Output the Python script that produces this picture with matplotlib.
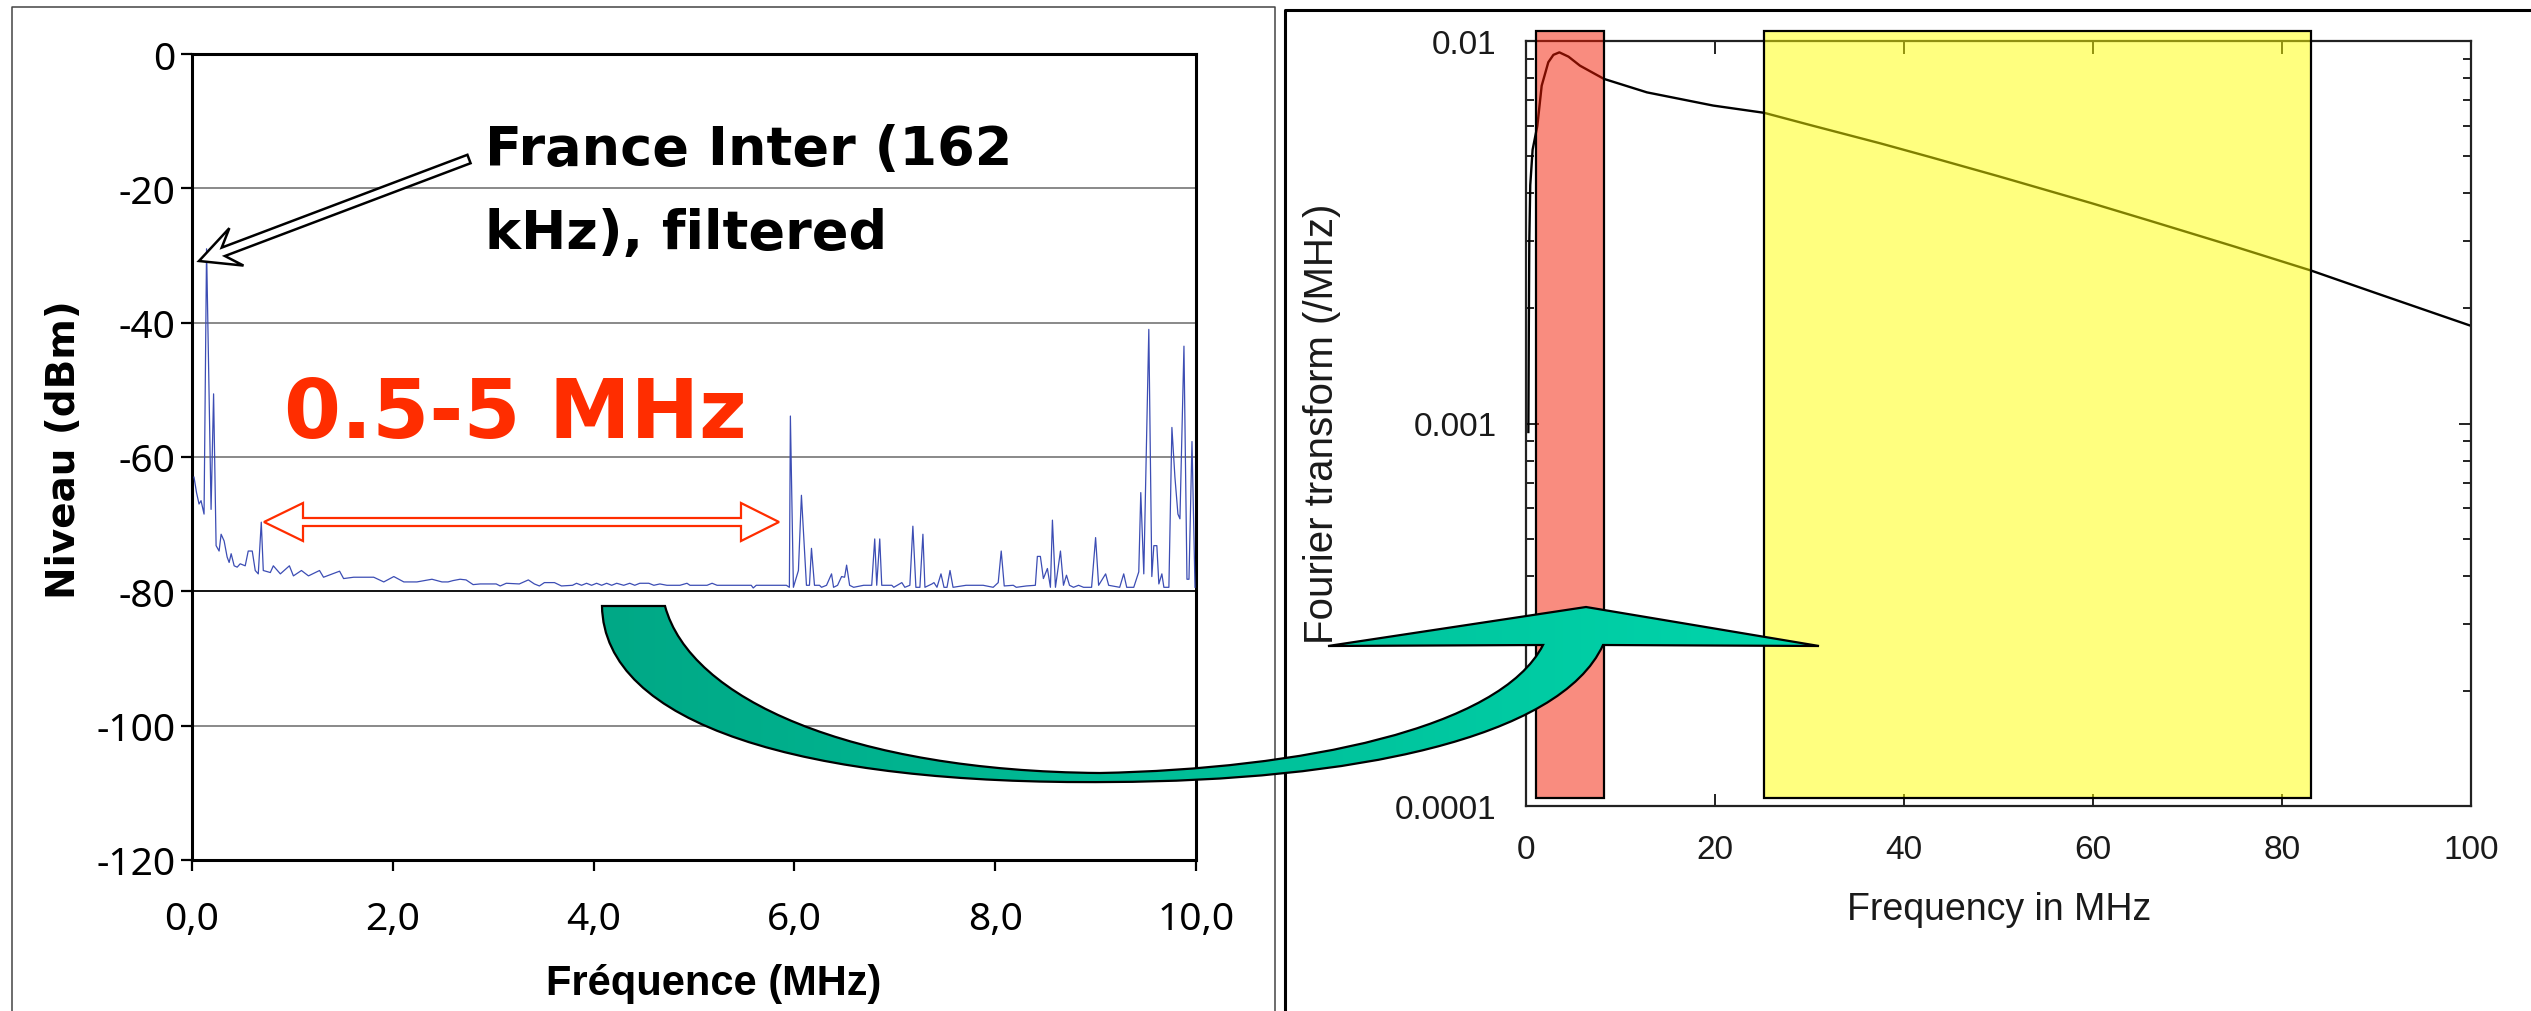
import numpy as np
import matplotlib
matplotlib.use("Agg")
import matplotlib.pyplot as plt
from matplotlib.path import Path
from matplotlib.patches import PathPatch, Polygon, FancyArrow, Rectangle
from matplotlib.ticker import FixedLocator, FixedFormatter, LogLocator, NullFormatter, NullLocator

# ---------------- data : left spectrum ----------------
freq_mhz = [
    0.02, 0.045, 0.07, 0.09, 0.12, 0.145, 0.19, 0.215, 0.24, 0.27, 0.29, 0.32, 0.35, 0.37, 0.39,
    0.42, 0.45, 0.48, 0.53, 0.56, 0.60, 0.63, 0.66, 0.69, 0.71, 0.78, 0.81, 0.88, 0.97, 1.01,
    1.09, 1.16, 1.27, 1.31, 1.47, 1.51, 1.61, 1.81, 1.91, 2.01, 2.11, 2.24, 2.39, 2.49,
    2.55, 2.60, 2.67, 2.73, 2.80, 2.87, 3.03, 3.07, 3.13, 3.26, 3.35, 3.41, 3.46, 3.51, 3.56,
    3.61, 3.68, 3.79, 3.83, 3.88, 3.93, 3.98, 4.03, 4.08, 4.13, 4.18, 4.23, 4.30, 4.36, 4.41,
    4.46, 4.55, 4.60, 4.66, 4.73, 4.79, 4.86, 4.93, 4.96, 5.13, 5.18, 5.23, 5.46, 5.57, 5.59,
    5.62, 5.92, 5.95, 5.96, 5.99, 6.04, 6.07, 6.12, 6.15, 6.17, 6.20, 6.25, 6.27, 6.32, 6.37,
    6.39, 6.43, 6.47, 6.50, 6.52, 6.55, 6.59, 6.69, 6.77, 6.80, 6.82, 6.85, 6.87, 6.97, 6.99,
    7.07, 7.10, 7.15, 7.18, 7.21, 7.25, 7.28, 7.30, 7.37, 7.39, 7.42, 7.46, 7.49, 7.52, 7.55,
    7.58, 7.71, 7.88, 7.98, 8.03, 8.06, 8.09, 8.18, 8.21, 8.31, 8.40, 8.42, 8.45, 8.48, 8.52,
    8.55, 8.57, 8.60, 8.65, 8.68, 8.71, 8.74, 8.78, 8.83, 8.88, 8.96, 9.00, 9.03, 9.10, 9.13,
    9.24, 9.28, 9.31, 9.38, 9.43, 9.45, 9.48, 9.53, 9.56, 9.58, 9.61, 9.63, 9.66, 9.68, 9.73,
    9.76, 9.79, 9.82, 9.84, 9.88, 9.91, 9.93, 9.96, 9.99]
level_dbm = [
    -63.0, -65.3, -67.0, -66.5, -68.5, -29.0, -67.8, -50.6, -73.2, -74.0, -71.5, -72.5, -74.9, -75.7, -74.4,
    -76.2, -76.4, -75.9, -76.2, -74.0, -74.0, -76.9, -77.4, -69.7, -76.9, -77.2, -76.2, -77.4, -76.2, -77.7,
    -76.9, -77.7, -76.9, -77.9, -77.0, -78.1, -77.9, -77.9, -78.6, -77.8, -78.6, -78.6, -78.2, -78.6,
    -78.6, -78.4, -78.2, -78.3, -79.0, -78.9, -78.9, -79.2, -78.8, -78.9, -78.3, -78.9, -79.2, -78.7, -78.7,
    -78.7, -79.2, -79.1, -78.8, -79.1, -78.8, -79.1, -78.8, -79.1, -78.8, -79.1, -78.8, -79.1, -78.8, -79.1,
    -78.8, -78.8, -79.1, -78.9, -79.1, -79.1, -79.1, -78.8, -79.1, -79.1, -78.8, -79.1, -79.1, -79.1, -79.5,
    -79.1, -79.1, -79.4, -53.9, -79.4, -76.9, -65.7, -79.1, -79.1, -73.6, -79.1, -79.1, -79.4, -79.1, -77.4,
    -79.4, -79.1, -77.8, -77.9, -76.1, -79.1, -79.4, -79.1, -79.1, -72.2, -79.1, -72.2, -79.1, -79.1, -79.4,
    -78.7, -79.4, -79.1, -70.3, -79.4, -79.4, -71.5, -79.4, -78.9, -78.7, -79.4, -77.4, -79.4, -79.4, -76.9,
    -79.4, -79.1, -79.1, -79.4, -78.7, -74.0, -79.2, -79.1, -79.4, -79.2, -79.1, -74.8, -74.8, -78.1, -76.6,
    -79.4, -69.4, -79.4, -74.0, -79.1, -77.6, -79.1, -79.4, -79.1, -79.4, -79.4, -72.0, -79.1, -77.4, -79.1,
    -79.4, -77.4, -79.4, -79.4, -77.1, -65.3, -77.4, -41.0, -77.8, -73.2, -73.2, -78.9, -77.4, -79.4, -79.4,
    -55.6, -63.0, -68.5, -69.2, -43.5, -78.2, -78.2, -57.7, -79.4]

level_ticks = [-120, -100, -80, -60, -40, -20, 0]
level_labels = ["-120", "-100", "-80", "-60", "-40", "-20", "0"]
freq_ticks = [0, 2, 4, 6, 8, 10]
freq_labels = ["0,0", "2,0", "4,0", "6,0", "8,0", "10,0"]

# ---------------- data : right Fourier transform ----------------
ft_freq = [0.25, 0.30, 0.35, 0.45, 0.70, 1.2, 1.66, 2.36, 2.9, 3.53, 4.5, 5.71, 8.25, 12.8, 19.8,
           25.2, 30.4, 37.5, 42.8, 50.0, 59.8, 66.0, 75.0, 83.1, 90.0, 100.0]
ft_value = [0.00095, 0.0018, 0.0030, 0.0042, 0.0052, 0.0060, 0.00764, 0.0088, 0.00920, 0.00934,
            0.00910, 0.00862, 0.00796, 0.00734, 0.00678, 0.00649, 0.00600, 0.00540, 0.00497,
            0.00443, 0.00377, 0.00339, 0.00290, 0.00251, 0.00219, 0.0018]
ft_yticks = [1e-4, 1e-3, 1e-2]
ft_ylabels = ["0.0001", "0.001", "0.01"]
ft_xticks = [0, 20, 40, 60, 80, 100]
ft_xlabels = ["0", "20", "40", "60", "80", "100"]
band_low = (1.06, 8.25)      # MHz, red band
band_high = (25.2, 83.1)     # MHz, yellow band
band_bottom, band_top = 1.05e-4, 1.062e-2

# ---------------- figure ----------------
W, H = 2531, 1012
fig = plt.figure(figsize=(W / 100, H / 100), dpi=100)
fig.patch.set_facecolor("white")


def rect(x0, y0, x1, y1):
    return [x0 / W, 1 - y1 / H, (x1 - x0) / W, (y1 - y0) / H]


# ---- left chart ----
axL = fig.add_axes(rect(192, 55, 1196, 861))
axL.set_xlim(0, 10)
axL.set_ylim(-120, 0)
for yv in level_ticks[1:-1]:
    axL.axhline(yv, color="black" if yv == -80 else "#808080", lw=1.3, zorder=1)
axL.plot(freq_mhz, level_dbm, color="#3C4DB4", lw=0.9, zorder=3)
for s in axL.spines.values():
    s.set_linewidth(2.2)
    s.set_color("black")
axL.set_yticks(level_ticks)
axL.set_yticklabels(level_labels, fontfamily="Noto Sans", fontsize=28)
axL.set_xticks(freq_ticks)
axL.set_xticklabels(freq_labels, fontfamily="Noto Sans", fontsize=28)
axL.tick_params(axis="both", direction="out", length=8, width=1.6, color="black")
axL.tick_params(axis="y", pad=4)
axL.tick_params(axis="x", pad=21)
axL.set_xlabel("Fréquence (MHz)", fontfamily="Liberation Sans", fontweight="bold", fontsize=30)
axL.xaxis.set_label_coords(0.52, -0.128)
axL.set_ylabel("Niveau (dBm)", fontfamily="DejaVu Sans", fontweight="bold", fontsize=28)
axL.yaxis.set_label_coords(-0.1086, 0.51)

# ---- right chart ----
axR = fig.add_axes(rect(1526, 42, 2471, 807))
axR.set_yscale("log")
axR.set_xlim(0, 100)
axR.set_ylim(1e-4, 1e-2)
axR.plot(ft_freq, ft_value, color="black", lw=1.7, zorder=2)
axR.add_patch(Rectangle((band_low[0], band_bottom), band_low[1] - band_low[0], band_top - band_bottom,
                        facecolor=(0.96, 0.10, 0.0, 0.5), edgecolor="black", lw=1.6,
                        clip_on=False, zorder=3))
axR.add_patch(Rectangle((band_high[0], band_bottom), band_high[1] - band_high[0], band_top - band_bottom,
                        facecolor=(1.0, 1.0, 0.0, 0.5), edgecolor="black", lw=1.6,
                        clip_on=False, zorder=3))
for s in axR.spines.values():
    s.set_linewidth(1.6)
    s.set_color("#222222")
axR.yaxis.set_major_locator(FixedLocator(ft_yticks))
axR.yaxis.set_major_formatter(FixedFormatter(ft_ylabels))
axR.yaxis.set_minor_locator(LogLocator(base=10, subs=np.arange(2, 10)))
axR.yaxis.set_minor_formatter(NullFormatter())
axR.set_xticks(ft_xticks)
axR.set_xticklabels(ft_xlabels)
axR.xaxis.set_minor_locator(NullLocator())
axR.tick_params(which="both", direction="in", top=True, right=True, color="#222222", width=1.4,
                labelsize=24, labelcolor="#1a1a1a")
axR.tick_params(which="major", length=9)
axR.tick_params(which="minor", length=5.5)
axR.tick_params(axis="y", pad=21)
axR.tick_params(axis="x", pad=20)
for lab in axR.get_xticklabels() + axR.get_yticklabels():
    lab.set_fontfamily("Liberation Sans")
axR.set_xlabel("Frequency in MHz", fontfamily="Liberation Sans", fontsize=27, color="#1a1a1a")
axR.xaxis.set_label_coords(0.5005, -0.111)
axR.set_ylabel("Fourier transform (/MHz)", fontfamily="Liberation Sans", fontsize=29, color="#1a1a1a")
axR.yaxis.set_label_coords(-0.1958, 0.5007)

# ---- overlay (pixel coordinates, y downwards) ----
axO = fig.add_axes([0, 0, 1, 1], zorder=10)
axO.set_xlim(0, W)
axO.set_ylim(H, 0)
axO.axis("off")
axO.patch.set_alpha(0)

# panel frames
axO.plot([12, 12, 1275, 1275], [1012, 8, 8, 1012], color="#444444", lw=1.1, zorder=1)
axO.plot([1285, 1285, 2531], [1012, 11, 11], color="black", lw=2.2, zorder=1)

# annotation texts
axO.text(485, 165, "France Inter (162", fontfamily="DejaVu Sans", fontweight="bold",
         fontsize=39, va="baseline", ha="left", color="black", zorder=5)
axO.text(485, 249, "kHz), filtered", fontfamily="DejaVu Sans", fontweight="bold",
         fontsize=39, va="baseline", ha="left", color="black", zorder=5)
axO.text(284, 438, "0.5-5 MHz", fontfamily="DejaVu Sans", fontweight="bold",
         fontsize=59, va="baseline", ha="left", color="#FF2D00", zorder=5)

# hollow black arrow towards France Inter peak
axO.add_patch(FancyArrow(469, 160, 199 - 469, 262 - 160, width=9, head_width=40, head_length=40,
                         overhang=0.35, length_includes_head=True, facecolor="white",
                         edgecolor="black", lw=1.8, zorder=5))

# hollow red double arrow
dbl = [(264, 523), (303, 504), (303, 519), (741, 519), (741, 504), (779, 523),
       (741, 542), (741, 527), (303, 527), (303, 542)]
axO.add_patch(Polygon(dbl, closed=True, facecolor="white", edgecolor="#FF2D00", lw=1.6, zorder=5))

# curved green arrow
verts = [(602, 607),
         (604, 725), (800, 786), (1110, 783),
         (1350, 782), (1560, 740), (1603, 646),
         (1819, 647), (1586, 608), (1328, 647), (1543, 646),
         (1500, 730), (1300, 770), (1100, 774),
         (850, 772), (690, 700), (665, 607),
         (602, 607), (602, 607)]
codes = ([Path.MOVETO] + [Path.CURVE4] * 6 + [Path.LINETO] * 4 + [Path.CURVE4] * 6
         + [Path.LINETO, Path.CLOSEPOLY])
arrow_path = Path(verts, codes)
clip = PathPatch(arrow_path, facecolor="none", edgecolor="none", transform=axO.transData)
axO.add_patch(clip)
c0 = np.array([0, 168, 134]) / 255
c1 = np.array([0, 214, 172]) / 255
t = np.linspace(0, 1, 256)
grad = (c0[None, :] * (1 - t[:, None]) + c1[None, :] * t[:, None])[None, :, :]
im = axO.imshow(grad, extent=[600, 1822, 790, 600], aspect="auto", zorder=6, interpolation="bilinear")
im.set_clip_path(clip)
axO.add_patch(PathPatch(arrow_path, facecolor="none", edgecolor="black", lw=1.6, zorder=7))
axO.set_xlim(0, W)
axO.set_ylim(H, 0)

fig.savefig("out.png", dpi=100, facecolor="white")
